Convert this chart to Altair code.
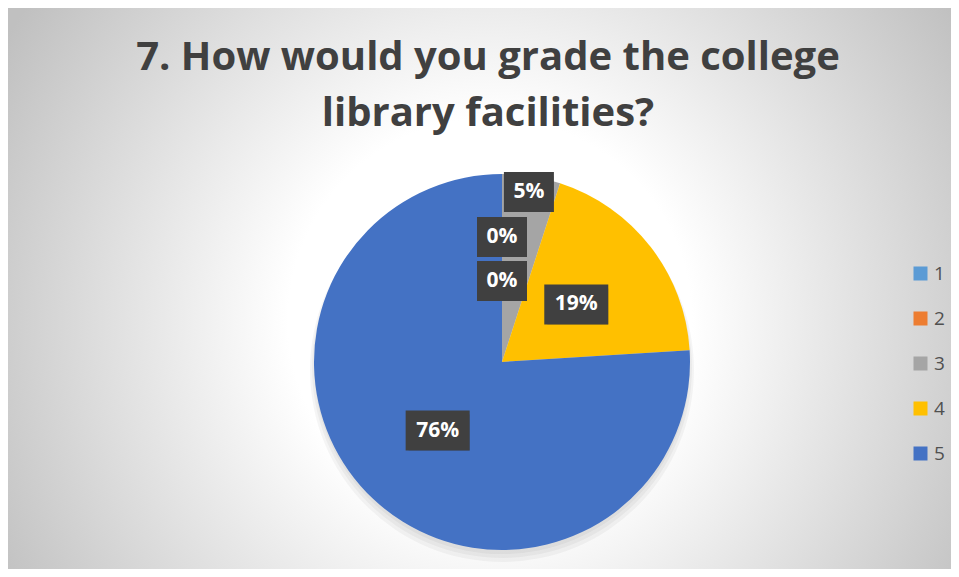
import altair as alt
import pandas as pd

CATEGORIES = ["1", "2", "3", "4", "5"]
PERCENTS = [0, 0, 5, 19, 76]
LABELS = ["0%", "0%", "5%", "19%", "76%"]
COLORS = ["#5B9BD5", "#ED7D31", "#A5A5A5", "#FFC000", "#4472C4"]
TITLE_LINES = ["7. How would you grade the college", "library facilities?"]

W, H = 943, 561
CX, CY, R = 494, 354, 188

df = pd.DataFrame({"cat": CATEGORIES, "pct": PERCENTS, "label": LABELS})
one = pd.DataFrame({"k": [0]})
titles = pd.DataFrame({"t": TITLE_LINES, "i": list(range(len(TITLE_LINES)))})

# background radial gradient (circular, clipped to the view)
GC_X, GC_Y, GR = 482, 312, 560
bg = alt.Chart(one).mark_rect(
    clip=True,
    fill={
        "gradient": "radial",
        "x1": 0.5, "y1": 0.5, "r1": 0,
        "x2": 0.5, "y2": 0.5, "r2": 0.5,
        "stops": [
            {"offset": 0, "color": "#ffffff"},
            {"offset": 0.36, "color": "#ffffff"},
            {"offset": 1, "color": "#c0c0c0"},
        ],
    },
).encode(
    x=alt.value(GC_X - GR), x2=alt.value(GC_X + GR),
    y=alt.value(GC_Y - GR), y2=alt.value(GC_Y + GR),
)

# soft shadow under the pie
shadows = [
    alt.Chart(one).mark_arc(theta=0, theta2=6.2832, radius=rr, color="black", opacity=0.04)
    .encode(x=alt.value(CX), y=alt.value(CY + dy))
    for rr, dy in ((192, 8), (190, 6), (188, 4))
]

pie = alt.Chart(df).mark_arc(outerRadius=R).encode(
    theta=alt.Theta("pct:Q", stack=True),
    color=alt.Color(
        "cat:N",
        scale=alt.Scale(domain=CATEGORIES, range=COLORS),
        legend=alt.Legend(
            title=None, orient="none", direction="vertical",
            legendX=903, legendY=256, padding=0,
            symbolType="square", symbolSize=196, symbolStrokeWidth=0,
            labelFont="Open Sans", labelFontSize=19, labelColor="#505050",
            rowPadding=25, labelOffset=4,
        ),
    ),
    order=alt.Order("cat:N"),
    x=alt.value(CX), y=alt.value(CY),
)

lab_base = alt.Chart(df).transform_window(
    cum="sum(pct)", sort=[alt.SortField("cat")], frame=[None, 0]
).transform_calculate(
    mid="(datum.cum - datum.pct / 2) / 100 * 2 * PI",
    lr="datum.cat == '3' ? 172 : (datum.cat == '1' ? 81 : (datum.cat == '2' ? 125 : 94))",
).transform_calculate(
    lx=f"{CX} + datum.lr * sin(datum.mid)",
    ly=f"{CY} - datum.lr * cos(datum.mid)",
    bw="length(datum.label) > 2 ? 64 : 50",
).transform_calculate(
    bx1="datum.lx - datum.bw / 2",
    bx2="datum.lx + datum.bw / 2",
    by1="datum.ly - 20",
    by2="datum.ly + 20",
)

box_enc = dict(
    x=alt.X("bx1:Q", scale=None, axis=None),
    x2="bx2:Q",
    y=alt.Y("by1:Q", scale=None, axis=None),
    y2="by2:Q",
)
box_shadow = lab_base.mark_rect(color="black", opacity=0.22, xOffset=3, yOffset=4).encode(**box_enc)
boxes = lab_base.mark_rect(color="#404040").encode(**box_enc)
texts = lab_base.mark_text(
    font="Open Sans", fontWeight="bold", fontSize=21, color="white",
    align="center", baseline="middle",
).encode(
    x=alt.X("lx:Q", scale=None, axis=None),
    y=alt.Y("ly:Q", scale=None, axis=None),
    text="label:N",
)

title = alt.Chart(titles).transform_calculate(
    ty="62 + datum.i * 56"
).mark_text(
    font="Open Sans", fontWeight="bold", fontSize=40, color="#404040",
    align="center", baseline="alphabetic",
).encode(
    x=alt.value(480),
    y=alt.Y("ty:Q", scale=None, axis=None),
    text="t:N",
)

chart = alt.layer(bg, *shadows, pie, box_shadow, boxes, texts, title).properties(
    width=W, height=H, padding=0, autosize="none"
).configure_view(stroke=None)

chart.save("out.html", embed_options={"renderer": "svg", "actions": False})
